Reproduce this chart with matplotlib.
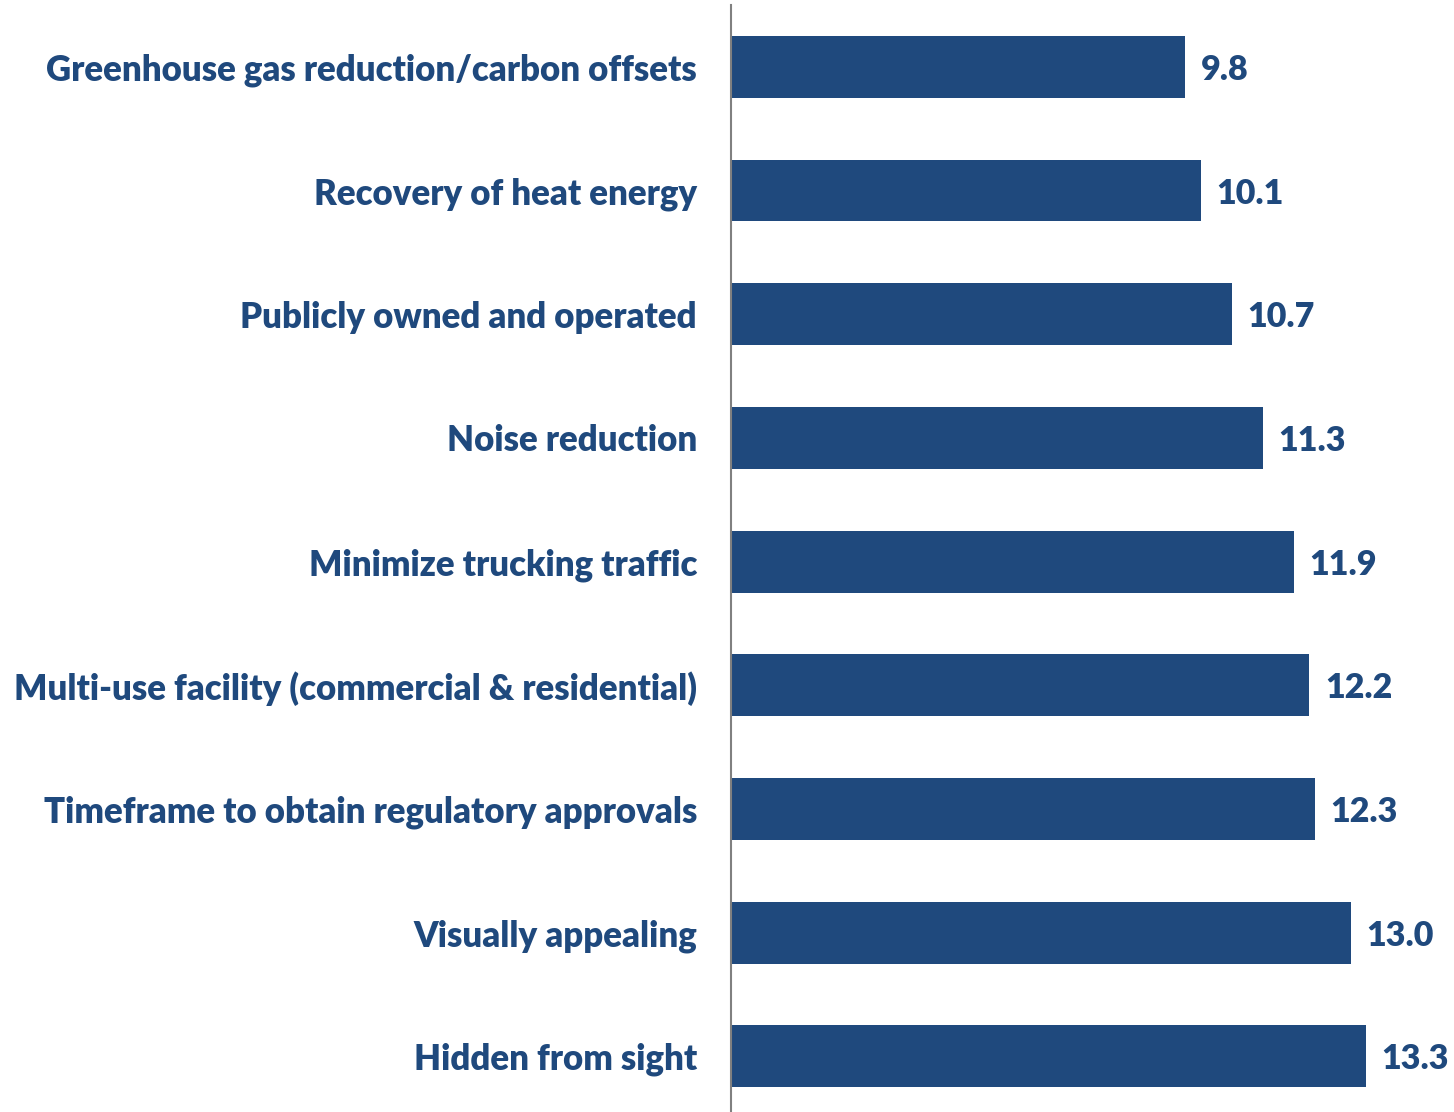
import matplotlib
matplotlib.use("Agg")
import matplotlib.pyplot as plt

categories = [
    "Greenhouse gas reduction/carbon offsets",
    "Recovery of heat energy",
    "Publicly owned and operated",
    "Noise reduction",
    "Minimize trucking traffic",
    "Multi-use facility (commercial & residential)",
    "Timeframe to obtain regulatory approvals",
    "Visually appealing",
    "Hidden from sight",
]
values = [9.8, 10.1, 10.7, 11.3, 11.9, 12.2, 12.3, 13.0, 13.3]

bar_color = "#1F497D"
text_color = "#1F497D"

plt.rcParams['font.family'] = ['Lato', 'DejaVu Sans']

fig = plt.figure(figsize=(14.54, 11.12), dpi=100)
ax = fig.add_axes([731 / 1454, 0, 1 - 731 / 1454, 1 - 5 / 1112])

y = list(range(len(categories)))
ax.barh(y, values, height=0.5, left=0, color=bar_color)
ax.set_xlim(1, 15)
ax.set_ylim(8.45, -0.5)

for yi, v in zip(y, values):
    ax.text(v + 0.3, yi, f"{v:.1f}", va="center_baseline", ha="left",
            fontsize=24.5, fontweight="heavy", color=text_color)

ax.set_yticks(y)
ax.set_yticklabels(categories, fontsize=25, fontweight="heavy", color=text_color)
ax.tick_params(axis="y", length=0, pad=24.5)
ax.set_xticks([])

for side in ["top", "right", "bottom"]:
    ax.spines[side].set_visible(False)
ax.spines["left"].set_color("#808080")
ax.spines["left"].set_linewidth(1.5)

fig.savefig("out.png", dpi=100)
